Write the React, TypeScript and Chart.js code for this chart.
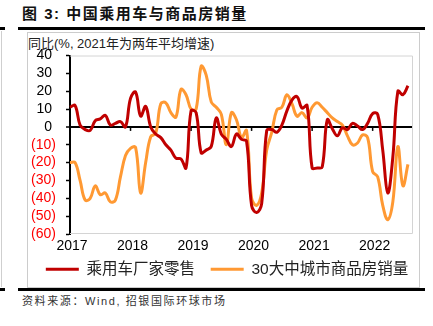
import React, { useEffect, useRef } from "react";
import { Chart, registerables } from "chart.js";

Chart.register(...registerables);

const months: string[] = [];
for (let y = 2017; y <= 2022; y++) {
  for (let m = 1; m <= 12; m++) {
    if (y === 2022 && m > 9) break;
    months.push(`${y}-${String(m).padStart(2, "0")}`);
  }
}

const seriesNames = ["乘用车厂家零售", "30大中城市商品房销量"];

const carRetail = [
  11, 12, 1, -1.5, -2, 3.5, 4.5, 6.5, 1, 2, 3, 0,
  16, 19.5, 6, 11.5, 0, -4, -6, -10, -13, -17.5, -18, -23,
  9, 8, -14.5, -13, -11, 5, -4, -7, -11, -4, -7, -8,
  -44, -48, -43, -2, -1.5, -3, 1, 9, 15, 17, 10.5, 12,
  -23, -23, -22.5, 4, -1, -5, -0.5, -1.5, 2, 0.5, -1.5, 2,
  7.5, 7, -13, -37, -17, 20, 18, 23,
];

const housingSales = [
  -20, -20, -30, -41, -40, -33, -38, -37, -42, -41, -28, -16,
  -12, -11.5, -37, -20, -5.5, -3.5, 13, 13.5, 8, 5.5, 21, 18,
  10, 10, 34, 29, 14, 11, 7, -10, 8, 4, -6, -2,
  -40, -44, -37, -13, -3, 9.5, 11, 18, 13, 6, 8, 5,
  11, 13.5, 11, 8, 5, 3, 1, -5, -10, -9, -4.5, -6,
  -25, -28, -44, -52, -42, -11, -33, -21,
];

const yMin = -60;
const yMax = 40;
const yStep = 10;

const FONT = "'Liberation Sans', 'Noto Sans CJK SC', Arial, sans-serif";

const framePlugin = {
  id: "frameAndTicks",
  afterLayout(chart: any) {
    if (chart.legend) {
      chart.legend.left += 6.5;
      chart.legend.right += 6.5;
    }
  },
  beforeDatasetsDraw(chart: any) {
    const { ctx, chartArea, scales } = chart;
    ctx.save();
    ctx.strokeStyle = "#d4d4d4";
    ctx.lineWidth = 1;
    ctx.beginPath();
    ctx.moveTo(chartArea.left, chartArea.top + 0.5);
    ctx.lineTo(chartArea.right - 0.5, chartArea.top + 0.5);
    ctx.lineTo(chartArea.right - 0.5, chartArea.bottom - 0.5);
    ctx.lineTo(chartArea.left, chartArea.bottom - 0.5);
    ctx.stroke();
    const y0 = scales.y.getPixelForValue(0);
    ctx.strokeStyle = "#000";
    ctx.lineWidth = 1.5;
    months.forEach((m, i) => {
      if (i > 0 && m.endsWith("-01")) {
        const x = scales.x.getPixelForValue(i);
        ctx.beginPath();
        ctx.moveTo(x, y0);
        ctx.lineTo(x, y0 + 4);
        ctx.stroke();
      }
    });
    ctx.restore();
  },
};

export default function App() {
  const ref = useRef<HTMLCanvasElement>(null);

  useEffect(() => {
    if (!ref.current) return;
    const defaultGen = (Chart.defaults as any).plugins.legend.labels.generateLabels;
    const chart = new Chart(ref.current, {
      type: "line",
      data: {
        labels: months,
        datasets: [
          {
            label: seriesNames[0],
            data: carRetail,
            borderColor: "#C00000",
            backgroundColor: "#C00000",
            borderWidth: 3,
            pointRadius: 0,
            tension: 0.4,
          },
          {
            label: seriesNames[1],
            data: housingSales,
            borderColor: "#FF9933",
            backgroundColor: "#FF9933",
            borderWidth: 3,
            pointRadius: 0,
            tension: 0.4,
          },
        ],
      },
      options: {
        responsive: false,
        animation: false,
        devicePixelRatio: 1,
        layout: { padding: { left: 0, right: 6, top: 22.5, bottom: 0 } },
        scales: {
          x: {
            type: "category",
            grid: { display: false, drawTicks: false },
            border: { display: false },
            ticks: {
              autoSkip: false,
              maxRotation: 0,
              minRotation: 0,
              padding: 4,
              labelOffset: 2,
              color: "#000",
              font: { family: FONT, size: 14 },
              callback: (v: any, i: number) =>
                months[i].endsWith("-01") ? months[i].slice(0, 4) : "",
            },
          },
          y: {
            min: yMin,
            max: yMax,
            afterFit: (s: any) => {
              s.width = 42;
            },
            border: { display: true, color: "#000", width: 2 },
            grid: {
              drawOnChartArea: true,
              color: (c: any) => (c.tick && c.tick.value === 0 ? "#000" : "rgba(0,0,0,0)"),
              lineWidth: (c: any) => (c.tick && c.tick.value === 0 ? 2 : 1),
              tickColor: "#000",
              tickLength: 4,
              tickWidth: 1.5,
            },
            ticks: {
              stepSize: yStep,
              autoSkip: false,
              padding: 10,
              font: { family: FONT, size: 14 },
              color: (c: any) => (c.tick.value < 0 ? "#FF0000" : "#000"),
              callback: (v: any) => {
                const n = Number(v);
                return n < 0 ? `(${Math.abs(n)})` : `${n} `;
              },
            },
          },
        },
        plugins: {
          title: { display: false },
          tooltip: { enabled: false },
          legend: {
            display: true,
            position: "bottom",
            labels: {
              usePointStyle: true,
              pointStyle: "line",
              pointStyleWidth: 33,
              padding: 2.7,
              color: "#222",
              font: { family: FONT, size: 15.5 },
              generateLabels: (ch: any) => {
                const items = defaultGen(ch);
                items.forEach((it: any, i: number) => {
                  it.pointStyle = "line";
                  it.lineWidth = 3;
                  if (i < items.length - 1) it.text = it.text + "   ";
                });
                return items;
              },
            },
          },
        },
      },
      plugins: [framePlugin],
    });
    return () => chart.destroy();
  }, []);

  return (
    <div
      style={{
        position: "fixed",
        left: 0,
        top: 0,
        width: 433,
        height: 326,
        background: "#fff",
        fontFamily: FONT,
        overflow: "hidden",
      }}
    >
      <div style={{ position: "absolute", left: 1, top: 31, width: 1, height: 256, background: "#cfcfcf" }} />
      <div style={{ position: "absolute", left: 0, top: 27, width: 5, height: 3, background: "#000" }} />
      <div style={{ position: "absolute", left: 0, top: 288, width: 5, height: 3, background: "#000" }} />

      <div
        style={{
          position: "absolute",
          left: 22,
          top: 3,
          fontSize: 15,
          fontWeight: 700,
          letterSpacing: 1.5,
          color: "#111",
          whiteSpace: "nowrap",
          lineHeight: "22px",
        }}
      >
        图 3: 中国乘用车与商品房销量
      </div>
      <div style={{ position: "absolute", left: 18, top: 27, width: 407, height: 3, background: "#000" }} />
      <div
        style={{
          position: "absolute",
          left: 27,
          top: 32,
          width: 393,
          height: 256,
          border: "1px solid #cccccc",
          boxSizing: "border-box",
        }}
      />
      <div
        style={{
          position: "absolute",
          left: 28,
          top: 36,
          fontSize: 13,
          color: "#222",
          whiteSpace: "nowrap",
          lineHeight: "16px",
        }}
      >
        同比(%, 2021年为两年平均增速)
      </div>
      <canvas
        ref={ref}
        width={391}
        height={254}
        style={{ position: "absolute", left: 28, top: 33, width: 391, height: 254 }}
      />
      <div style={{ position: "absolute", left: 18, top: 288, width: 407, height: 3, background: "#000" }} />
      <div
        style={{
          position: "absolute",
          left: 22,
          top: 293,
          fontSize: 11,
          letterSpacing: 1.6,
          color: "#333",
          whiteSpace: "nowrap",
          lineHeight: "16px",
        }}
      >
        资料来源：Wind, 招银国际环球市场
      </div>
    </div>
  );
}
